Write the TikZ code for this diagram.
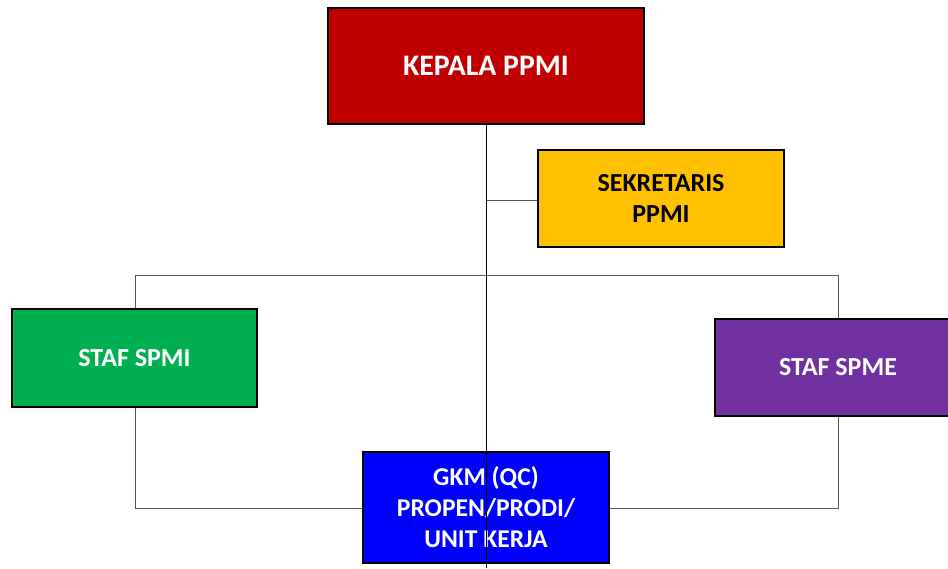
\documentclass[tikz,border=0pt]{standalone}
\usepackage{fontspec}
\setmainfont{Carlito}
\definecolor{cred}{HTML}{C00000}
\definecolor{cyellow}{HTML}{FFC000}
\definecolor{cgreen}{HTML}{00B050}
\definecolor{cpurple}{HTML}{7030A0}
\definecolor{cblue}{HTML}{0000FF}
\definecolor{cline}{HTML}{555555}
\begin{document}
\begin{tikzpicture}[x=1pt,y=-1pt,
  box/.style={draw=black,line width=1.8pt,inner sep=0pt,align=center,font=\fontsize{26}{31}\selectfont\bfseries},
  conn/.style={draw=cline,line width=1pt}]
\useasboundingbox (0,0) rectangle (948,568);
% nodes
\node[box,fill=cred,text=white,minimum width=316pt,minimum height=116pt,font=\fontsize{29.8}{34}\selectfont\bfseries] (kep) at (486,66) {KEPALA PPMI};
\node[box,fill=cyellow,text=black,minimum width=246pt,minimum height=97pt] (sek) at (661,198.5) {SEKRETARIS\\PPMI};
\node[box,fill=cgreen,text=white,minimum width=245pt,minimum height=98pt] (spmi) at (134.5,358) {STAF SPMI};
\node[box,fill=cpurple,text=white,minimum width=246pt,minimum height=97pt] (spme) at (838,367.5) {STAF SPME};
\node[box,fill=cblue,text=white,minimum width=246pt,minimum height=111pt,font=\fontsize{25.6}{31}\selectfont\bfseries] (gkm) at (486,507.5) {GKM (QC)\\PROPEN/PRODI/\\UNIT KERJA};
% coordinates
\coordinate (bot) at (486,568);
\coordinate (hl) at (135,275);
\coordinate (hr) at (838,275);
\coordinate (sj) at (486,200);
\coordinate (ll) at (135,508);
\coordinate (rl) at (838,508);
% connectors
\draw[conn] (sj) -- (sek.west |- sj);
\draw[conn] (hl) -- (hr);
\draw[conn] (hl) -- (spmi.north -| hl);
\draw[conn] (hr) -- (spme.north -| hr);
\draw[conn] (spmi.south -| ll) -- (ll) -- (gkm.west |- ll);
\draw[conn] (spme.south -| rl) -- (rl) -- (gkm.east |- rl);
\draw[black,line width=1pt] (kep.south) -- (bot);
\end{tikzpicture}
\end{document}
